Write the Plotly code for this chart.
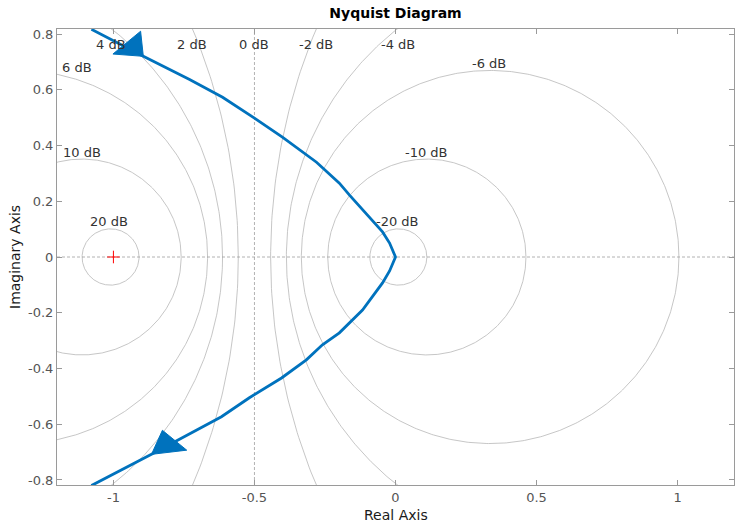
import numpy as np
import plotly.graph_objects as go

# ---- data ----
# Nyquist curve, upper branch (from top-left towards origin)
upper_re = [-1.078, -0.894, -0.730, -0.613, -0.500, -0.401, -0.280, -0.262, -0.199, -0.163, -0.046, -0.021, 0.0]
upper_im = [0.817, 0.720, 0.637, 0.573, 0.498, 0.430, 0.340, 0.323, 0.265, 0.222, 0.090, 0.050, 0.0]
# lower branch (from origin towards bottom-left)
lower_re = [-0.021, -0.046, -0.117, -0.199, -0.259, -0.316, -0.404, -0.518, -0.617, -0.865, -1.078]
lower_im = [-0.050, -0.093, -0.190, -0.272, -0.315, -0.369, -0.434, -0.505, -0.573, -0.708, -0.820]

# constant closed-loop magnitude contours (dB) and their label positions
m_db = [20, 10, 6, 4, 2, -2, -4, -6, -10, -20]
label_text = ["20 dB", "10 dB", "6 dB", "4 dB", "2 dB", "0 dB", "-2 dB", "-4 dB", "-6 dB", "-10 dB", "-20 dB"]
label_x = [-1.014, -1.113, -1.128, -1.009, -0.720, -0.500, -0.281, 0.008, 0.333, 0.110, 0.007]
label_y = [0.127, 0.376, 0.681, 0.761, 0.761, 0.761, 0.761, 0.761, 0.693, 0.376, 0.127]

x_ticks = [-1, -0.5, 0, 0.5, 1]
x_ticklabels = ["-1", "-0.5", "0", "0.5", "1"]
y_ticks = [-0.8, -0.6, -0.4, -0.2, 0, 0.2, 0.4, 0.6, 0.8]
y_ticklabels = ["-0.8", "-0.6", "-0.4", "-0.2", "0", "0.2", "0.4", "0.6", "0.8"]
x_range = [-1.2, 1.2]
y_range = [-0.818, 0.818]
arrow_tip_upper = 1   # index into upper branch
arrow_tip_lower = 9   # index into lower branch

# ---- layout geometry ----
W, H = 735, 522
ml, mr, mt, mb = 57, 1, 29, 37
pw, ph = W - ml - mr, H - mt - mb
sx = pw / (x_range[1] - x_range[0])
sy = ph / (y_range[1] - y_range[0])

fig = go.Figure()

grid_col = "#b8b8b8"
t = np.linspace(0, 2 * np.pi, 721)
for db in m_db:
    M = 10 ** (db / 20)
    c = -M**2 / (M**2 - 1)
    r = abs(M / (M**2 - 1))
    fig.add_trace(go.Scatter(x=c + r * np.cos(t), y=r * np.sin(t), mode="lines",
                             line=dict(color=grid_col, width=0.8), hoverinfo="skip", showlegend=False))
# 0 dB line and real axis
fig.add_trace(go.Scatter(x=[-0.5, -0.5], y=[y_range[0], y_range[1]], mode="lines",
                         line=dict(color="#a0a0a0", width=0.8, dash="3px,2px"), showlegend=False))
fig.add_trace(go.Scatter(x=[x_range[0], x_range[1]], y=[0, 0], mode="lines",
                         line=dict(color="#a0a0a0", width=0.8, dash="3px,2px"), showlegend=False))

for txt, lx, ly in zip(label_text, label_x, label_y):
    fig.add_annotation(x=lx, y=ly, text=txt, showarrow=False, xanchor="center", yanchor="middle",
                       font=dict(family="DejaVu Sans", size=13, color="#333333"))

blue = "#0072BD"
curve_x = upper_re + lower_re
curve_y = upper_im + lower_im
fig.add_trace(go.Scatter(x=curve_x, y=curve_y, mode="lines", line=dict(color=blue, width=2.8),
                         showlegend=False))


def arrow(xs, ys, i, P, Q):
    # work in screen pixels (y down); head shape offsets (back, side) in px
    tx, ty = xs[i] * sx, -ys[i] * sy
    dx, dy = (xs[i] - xs[i - 1]) * sx, -(ys[i] - ys[i - 1]) * sy
    n = np.hypot(dx, dy)
    ux, uy = dx / n, dy / n
    nx, ny = -uy, ux
    vx, vy = [tx], [ty]
    for b, sd in (P, Q):
        vx.append(tx + b * ux + sd * nx)
        vy.append(ty + b * uy + sd * ny)
    vx.append(tx)
    vy.append(ty)
    return [v / sx for v in vx], [-v / sy for v in vy]


heads = [(upper_re, upper_im, arrow_tip_upper, (-28.0, 12.0), (-14.0, -21.0)),
         (lower_re, lower_im, arrow_tip_lower, (-33.0, -13.0), (-21.0, 16.0))]
for xs, ys, i, P, Q in heads:
    ax_, ay_ = arrow(xs, ys, i, P, Q)
    fig.add_trace(go.Scatter(x=ax_, y=ay_, mode="lines", fill="toself", fillcolor=blue,
                             line=dict(color=blue, width=1), showlegend=False))

# critical point
fig.add_trace(go.Scatter(x=[-1], y=[0], mode="markers",
                         marker=dict(symbol="cross-thin", size=9, line=dict(color="#ff0000", width=1)),
                         showlegend=False))

axis_col = "#9a9a9a"
tick_font = dict(family="DejaVu Sans", size=13, color="#555555")
fig.update_xaxes(range=x_range, tickvals=x_ticks, ticktext=x_ticklabels, showgrid=False, zeroline=False,
                 showline=True, linecolor=axis_col, linewidth=1, mirror="ticks", ticks="inside",
                 ticklen=5, tickcolor=axis_col, tickfont=tick_font, automargin=False)
fig.update_yaxes(range=y_range, tickvals=y_ticks, ticktext=y_ticklabels, showgrid=False, zeroline=False,
                 showline=True, linecolor=axis_col, linewidth=1, mirror="ticks", ticks="inside",
                 ticklen=5, tickcolor=axis_col, tickfont=tick_font, automargin=False)

fig.add_annotation(text="Real Axis", xref="paper", yref="paper", x=0.5, y=-(515 - (mt + ph)) / ph,
                   xanchor="center", yanchor="middle", showarrow=False,
                   font=dict(family="DejaVu Sans", size=14, color="#1a1a1a"))
fig.add_annotation(text="Imaginary Axis", xref="paper", yref="paper", x=-(ml - 15) / pw, y=0.5,
                   xanchor="center", yanchor="middle", showarrow=False, textangle=-90,
                   font=dict(family="DejaVu Sans", size=14, color="#1a1a1a"))

fig.update_layout(width=W, height=H, margin=dict(l=ml, r=mr, t=mt, b=mb, autoexpand=False),
                  plot_bgcolor="white", paper_bgcolor="white",
                  title=dict(text="<b>Nyquist Diagram</b>", x=(ml + pw / 2) / W, xanchor="center",
                             y=1 - 13.5 / H, yanchor="middle",
                             font=dict(family="DejaVu Sans", size=14, color="#000000")))

fig.write_html("out.html", config={"displayModeBar": False},
               post_script="document.body.style.margin='0px';document.body.style.overflow='hidden';")
